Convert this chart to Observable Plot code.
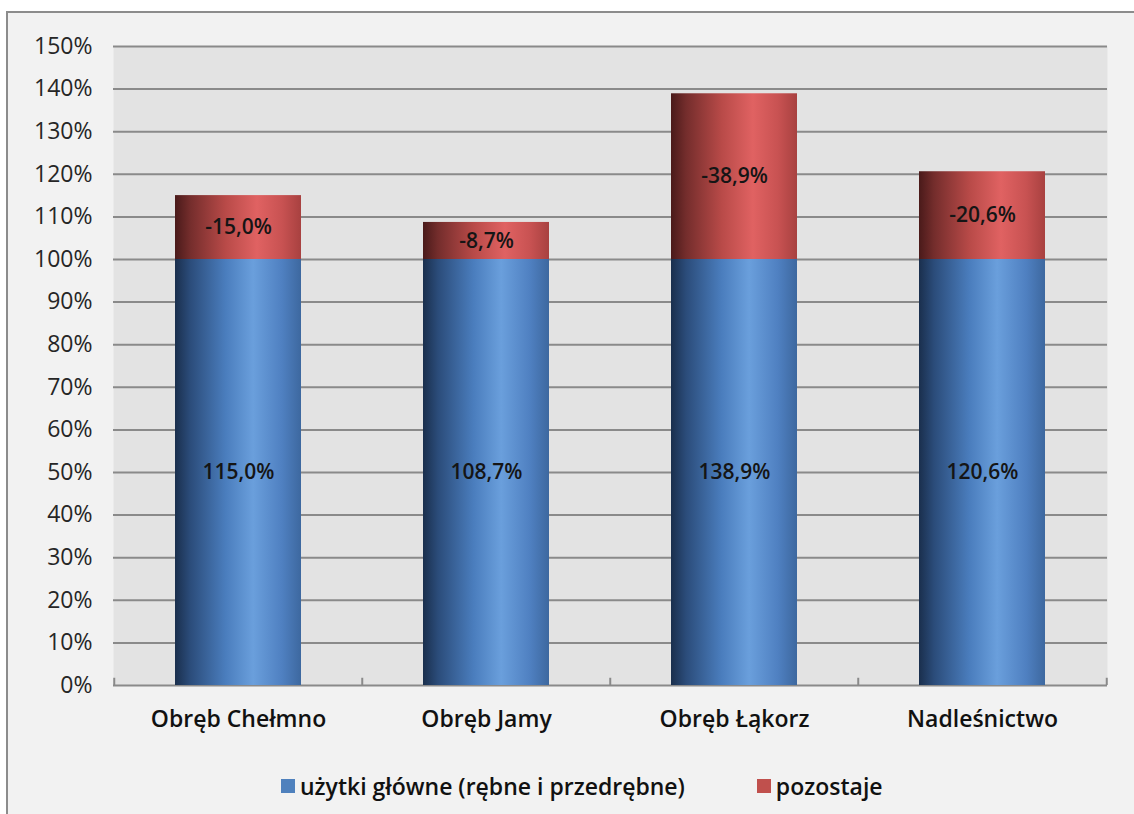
<!DOCTYPE html>
<html>
<head>
<meta charset="utf-8">
<script src="https://cdn.jsdelivr.net/npm/d3@7"></script>
<script src="https://cdn.jsdelivr.net/npm/@observablehq/plot@0.6"></script>
<style>
  html, body { margin:0; padding:0; background:#ffffff; width:1134px; height:814px; overflow:hidden; }
  #frame { position:absolute; left:6px; top:11px; width:1140px; height:820px; background:#f2f2f2; border:2px solid #8c8c8c; box-sizing:border-box; }
  #chart { position:absolute; left:0; top:0; }
  #legend { position:absolute; left:281px; top:770px; display:flex; align-items:center; font-family:"Open Sans", sans-serif; font-weight:600; font-size:23px; color:#111; }
  #legend .item { display:flex; align-items:center; }
  #legend .sw { width:14px; height:14px; margin-right:5px; }
</style>
</head>
<body>
<div id="frame"></div>
<div id="chart"></div>
<div id="legend"></div>
<script>
const categories = ["Obręb Chełmno", "Obręb Jamy", "Obręb Łąkorz", "Nadleśnictwo"];
const seriesNames = ["użytki główne (rębne i przedrębne)", "pozostaje"];
const seriesColors = ["#4f81bd", "#c0504d"];
const glowne = [100, 100, 100, 100];
const wykonanie = [115.0, 108.7, 138.9, 120.6];
const pozostaje = [-15.0, -8.7, -38.9, -20.6];
const yTicks = [0, 10, 20, 30, 40, 50, 60, 70, 80, 90, 100, 110, 120, 130, 140, 150];

const fmt = v => v.toFixed(1).replace(".", ",") + "%";

const rows = [];
categories.forEach((c, i) => {
  rows.push({cat: c, series: seriesNames[0], value: glowne[i], label: fmt(wykonanie[i])});
  rows.push({cat: c, series: seriesNames[1], value: -pozostaje[i], label: fmt(pozostaje[i])});
});

const step = (1134 - 113 - 27) / categories.length;

const chart = Plot.plot({
  width: 1134,
  height: 740,
  marginLeft: 113,
  marginRight: 27,
  marginTop: 46,
  marginBottom: 55,
  style: {fontFamily: "'Open Sans', sans-serif", background: "transparent", overflow: "visible", color: "#1a1a1a"},
  x: {domain: categories, paddingInner: 0.49, paddingOuter: 0.245, label: null},
  y: {domain: [0, 150], label: null},
  color: {domain: seriesNames, range: ["url(#gBlue)", "url(#gRed)"]},
  marks: [
    Plot.frame({fill: "#e3e3e3", stroke: null}),
    Plot.ruleY(yTicks, {stroke: "#8a8a8a", strokeWidth: 2}),
    Plot.ruleX(categories, {x: d => d, dx: -step / 2, y1: 0, y2: 1.7, stroke: "#8a8a8a", strokeWidth: 2}),
    Plot.ruleX(categories.slice(-1), {x: d => d, dx: step / 2, y1: 0, y2: 1.7, stroke: "#8a8a8a", strokeWidth: 2}),
    Plot.barY(rows, {x: "cat", y: "value", z: "series", fill: "series", order: seriesNames}),
    Plot.text(rows, Plot.stackY({x: "cat", y: "value", z: "series", text: "label", order: seriesNames, fontSize: 21, fontWeight: 600, fill: "#151515"})),
    Plot.axisY({ticks: yTicks, tickFormat: d => d + "%", tickSize: 0, tickPadding: 21, fontSize: 23, fill: "#262626", label: null}),
    Plot.axisX({tickSize: 0, tickPadding: 25, fontSize: 23, fontWeight: 600, fill: "#111", label: null})
  ]
});

const svg = d3.select(chart);
const defs = svg.insert("defs", ":first-child");
function grad(id, stops) {
  const g = defs.append("linearGradient").attr("id", id).attr("x1", "0").attr("x2", "1").attr("y1", "0").attr("y2", "0");
  stops.forEach(([o, c]) => g.append("stop").attr("offset", o).attr("stop-color", c));
}
grad("gBlue", [[0, "#1a2f4d"], [0.12, "#2b4c7a"], [0.4, "#4a7dbd"], [0.62, "#6a9fdc"], [0.85, "#4f80c1"], [1, "#3d689f"]]);
grad("gRed", [[0, "#4a1a1a"], [0.12, "#742d2c"], [0.4, "#b84a48"], [0.65, "#e06262"], [0.85, "#c85252"], [1, "#a84140"]]);

document.getElementById("chart").appendChild(chart);

const legend = document.getElementById("legend");
seriesNames.forEach((s, i) => {
  const item = document.createElement("div");
  item.className = "item";
  if (i > 0) item.style.marginLeft = "72px";
  const sw = document.createElement("div");
  sw.className = "sw";
  sw.style.background = seriesColors[i];
  const t = document.createElement("span");
  t.textContent = s;
  item.appendChild(sw);
  item.appendChild(t);
  legend.appendChild(item);
});
</script>
</body>
</html>
